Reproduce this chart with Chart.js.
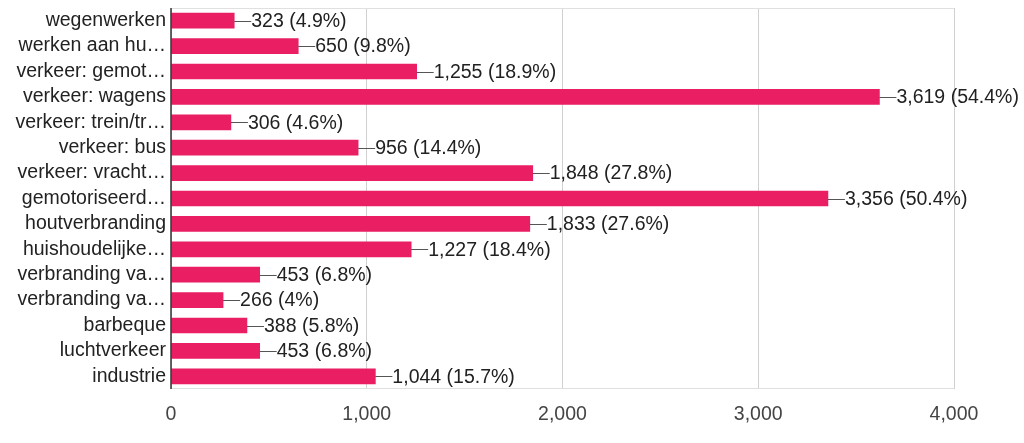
<!DOCTYPE html>
<html>
<head>
<meta charset="utf-8">
<script src="https://cdn.jsdelivr.net/npm/chart.js@4"></script>
<style>
html,body{margin:0;padding:0;background:#fff;}
#wrap{width:1024px;height:443px;position:relative;}
</style>
</head>
<body>
<div id="wrap"><canvas id="c" width="1024" height="443"></canvas></div>
<script>
const categories = ["wegenwerken","werken aan hu…","verkeer: gemot…","verkeer: wagens","verkeer: trein/tr…","verkeer: bus","verkeer: vracht…","gemotoriseerd…","houtverbranding","huishoudelijke…","verbranding va…","verbranding va…","barbeque","luchtverkeer","industrie"];
const counts = [323,650,1255,3619,306,956,1848,3356,1833,1227,453,266,388,453,1044];
const percents = ["4.9%","9.8%","18.9%","54.4%","4.6%","14.4%","27.8%","50.4%","27.6%","18.4%","6.8%","4%","5.8%","6.8%","15.7%"];
const xTicks = [0,1000,2000,3000,4000];

const FONT = "'Liberation Sans', Arial, sans-serif";
const FSIZE = 19.5;

const valueLabels = {
  id: 'valueLabels',
  afterDatasetsDraw(chart) {
    const ctx = chart.ctx;
    const meta = chart.getDatasetMeta(0);
    ctx.save();
    ctx.font = FSIZE + "px " + FONT;
    ctx.textBaseline = 'middle';
    ctx.textAlign = 'left';
    meta.data.forEach((bar, i) => {
      const x = bar.x, y = bar.y;
      ctx.strokeStyle = '#555';
      ctx.lineWidth = 1;
      ctx.beginPath();
      ctx.moveTo(x, Math.round(y) + 0.5);
      ctx.lineTo(x + 17, Math.round(y) + 0.5);
      ctx.stroke();
      ctx.fillStyle = '#212121';
      ctx.fillText(counts[i].toLocaleString('en-US') + ' (' + percents[i] + ')', x + 17, y + 1);
    });
    ctx.restore();
  }
};

const frame = {
  id: 'frame',
  beforeDatasetsDraw(chart) {
    const {ctx, chartArea} = chart;
    ctx.save();
    ctx.strokeStyle = '#e0e0e0';
    ctx.lineWidth = 1;
    ctx.beginPath();
    ctx.moveTo(chartArea.left, chartArea.top + 0.5);
    ctx.lineTo(chartArea.right, chartArea.top + 0.5);
    ctx.moveTo(chartArea.left, chartArea.bottom - 0.5);
    ctx.lineTo(chartArea.right, chartArea.bottom - 0.5);
    ctx.stroke();
    ctx.restore();
  },
  afterDatasetsDraw(chart) {
    const {ctx, chartArea} = chart;
    ctx.save();
    ctx.strokeStyle = '#333';
    ctx.lineWidth = 1.5;
    ctx.beginPath();
    ctx.moveTo(chartArea.left, chartArea.top);
    ctx.lineTo(chartArea.left, chartArea.bottom);
    ctx.stroke();
    ctx.restore();
  }
};

new Chart(document.getElementById('c'), {
  type: 'bar',
  data: {
    labels: categories,
    datasets: [{
      data: counts,
      backgroundColor: '#E91E63',
      borderWidth: 0,
      barThickness: 15
    }]
  },
  options: {
    indexAxis: 'y',
    responsive: false,
    animation: false,
    devicePixelRatio: 1,
    layout: { padding: { left: 0, right: 70, top: 8, bottom: 0 } },
    plugins: { legend: { display: false }, tooltip: { enabled: false } },
    scales: {
      x: {
        min: 0, max: 4000,
        afterBuildTicks(scale) { scale.ticks = xTicks.map(v => ({ value: v })); },
        afterFit(scale) { scale.height = 54; },
        grid: { color: '#d0d0d0', lineWidth: 1, drawTicks: false },
        border: { display: false },
        ticks: {
          padding: 14,
          color: '#444',
          font: { family: FONT, size: FSIZE },
          callback: v => v.toLocaleString('en-US')
        }
      },
      y: {
        afterFit(scale) { scale.width = 171; scale.paddingTop = 0; scale.paddingBottom = 0; },
        grid: { display: false, drawTicks: false },
        border: { display: false },
        ticks: {
          padding: 5,
          color: '#222',
          font: { family: FONT, size: FSIZE },
          autoSkip: false
        }
      }
    }
  },
  plugins: [frame, valueLabels]
});
</script>
</body>
</html>
